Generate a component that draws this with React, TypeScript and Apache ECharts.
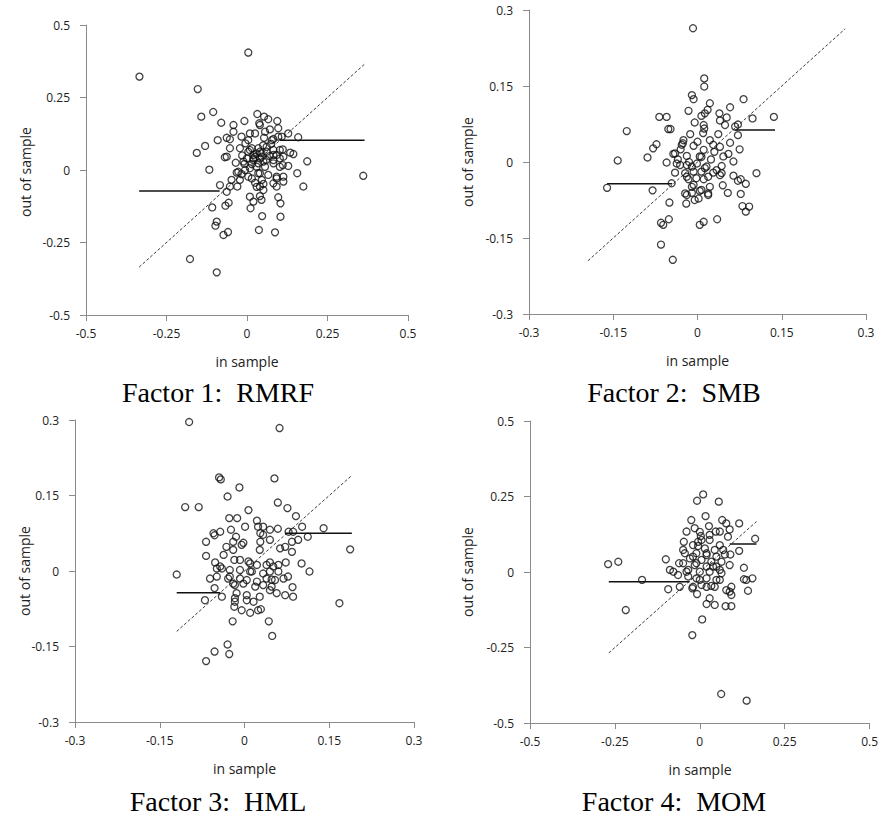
import React, { useEffect, useRef } from "react";
import * as echarts from "echarts";

type P = [number, number];

// ---- Factor 1: RMRF (in sample, out of sample)
const rmrfPoints: P[] = [
  [0.004,0.405],[-0.334,0.322],[-0.153,0.279],[-0.105,0.2],[-0.142,0.184],[-0.08,0.163],[-0.042,0.155],[-0.008,0.169],[0.032,0.193],[0.053,0.184],
  [0.066,0.175],[0.094,0.169],[0.038,0.161],[0.097,0.144],[0.071,0.14],[0.128,0.126],[-0.042,0.132],[-0.091,0.103],[-0.063,0.111],[-0.053,0.106],
  [-0.017,0.115],[0.004,0.103],[0.025,0.126],[0.053,0.111],[0.082,0.107],[0.108,0.115],[0.159,0.113],[-0.13,0.083],[-0.156,0.059],[-0.053,0.075],
  [-0.022,0.075],[-0.069,0.044],[-0.005,0.092],[0.009,0.069],[0.02,0.052],[0.04,0.063],[0.061,0.08],[0.082,0.069],[0.111,0.071],[0.134,0.06],
  [0.144,0.055],[0.092,0.052],[0.187,0.03],[-0.117,0.001],[-0.035,0.025],[-0.008,0.021],[0.02,0.034],[0.04,0.04],[0.051,0.029],[0.082,0.034],
  [0.102,0.04],[0.111,0.017],[0.128,0.014],[0.009,0.006],[0.03,0.011],[0.361,-0.02],[0.156,-0.011],[-0.032,-0.009],[-0.017,-0.014],[0.004,-0.023],
  [0.04,-0.011],[0.066,-0.017],[0.092,-0.023],[0.113,-0.023],[0.025,-0.044],[0.051,-0.048],[0.082,-0.046],[0.113,-0.04],[0.175,-0.057],[-0.084,-0.052],
  [-0.053,-0.057],[-0.03,-0.057],[-0.063,-0.075],[0.04,-0.057],[0.092,-0.057],[0.009,-0.092],[0.04,-0.09],[0.02,-0.109],[0.045,-0.103],[0.097,-0.094],
  [0.104,-0.115],[-0.057,-0.113],[-0.067,-0.123],[-0.108,-0.129],[0.011,-0.132],[0.047,-0.159],[0.104,-0.161],[-0.094,-0.178],[-0.098,-0.192],[-0.059,-0.214],
  [-0.073,-0.224],[0.037,-0.207],[0.087,-0.215],[-0.177,-0.307],[-0.094,-0.353],
  [0.04,0.155],[0.009,0.126],[0.056,0.132],[0.077,0.103],[0.097,0.115],[0.015,0.075],[0.004,0.063],[0.03,0.057],[0.046,0.046],[0.02,0.04],
  [0.061,0.063],[0.082,0.052],[0.102,0.069],[0.113,0.046],[-0.011,0.029],[-0.006,0.0],[-0.027,-0.006],[0.035,0.023],[0.056,0.011],[0.082,0.023],
  [0.102,0.011],[0.035,-0.011],[0.015,-0.029],[0.046,-0.034],[0.092,-0.029],[-0.022,-0.034],[-0.048,-0.034],[0.03,-0.058],[0.051,-0.069],[-0.063,0.046],
  [0.025,0.045],[0.045,0.058],[0.06,0.035],[0.015,0.02],[0.07,0.048],[0.035,0.075],[0.05,0.085],[0.075,0.09],[-0.015,0.05],[0.0,0.04],
];
const rmrfFit: P[] = [[-0.335,-0.335],[0.365,0.365]];
const rmrfLow: P[] = [[-0.335,-0.072],[-0.085,-0.072]];
const rmrfHigh: P[] = [[0.102,0.103],[0.365,0.103]];

// ---- Factor 2: SMB
const smbPoints: P[] = [
  [-0.008,0.264],[0.012,0.165],[0.012,0.149],[-0.01,0.132],[-0.007,0.124],[0.022,0.116],[0.018,0.103],[-0.016,0.101],[0.058,0.108],[0.082,0.124],
  [0.039,0.096],[-0.068,0.089],[-0.055,0.089],[0.052,0.088],[0.098,0.086],[0.136,0.089],[0.007,0.091],[-0.005,0.078],[0.04,0.082],[0.049,0.073],
  [0.072,0.074],[-0.052,0.065],[-0.048,0.065],[-0.126,0.061],[0.012,0.066],[-0.013,0.055],[0.037,0.055],[0.072,0.053],[-0.025,0.043],[0.022,0.043],
  [0.058,0.038],[-0.073,0.035],[-0.028,0.034],[-0.007,0.032],[0.028,0.034],[-0.079,0.027],[0.075,0.025],[0.011,0.024],[-0.089,0.009],[-0.142,0.003],
  [-0.043,0.016],[-0.019,0.012],[0.004,0.011],[0.024,0.005],[0.046,0.011],[0.055,0.016],[-0.055,-0.001],[-0.037,-0.003],[-0.019,-0.006],[-0.001,-0.003],
  [0.016,-0.009],[0.064,0.001],[0.043,-0.008],[-0.04,-0.021],[-0.022,-0.022],[-0.007,-0.019],[0.007,-0.019],[0.028,-0.021],[0.043,-0.022],[0.064,-0.027],
  [0.105,-0.022],[-0.016,-0.034],[-0.002,-0.032],[0.011,-0.034],[0.072,-0.037],[0.077,-0.034],[0.086,-0.043],[0.045,-0.046],[-0.046,-0.042],[-0.007,-0.045],
  [-0.161,-0.051],[-0.08,-0.056],[-0.022,-0.062],[-0.01,-0.061],[0.004,-0.057],[0.019,-0.062],[0.054,-0.061],[0.077,-0.063],[0.002,-0.072],[-0.005,-0.075],
  [-0.05,-0.08],[-0.02,-0.082],[0.08,-0.087],[0.092,-0.088],[0.086,-0.098],[-0.065,-0.12],[-0.051,-0.113],[-0.061,-0.124],[0.004,-0.124],[0.011,-0.118],
  [0.035,-0.113],[-0.065,-0.163],[-0.044,-0.193],
  [0.013,0.096],[0.011,0.073],[0.067,0.07],[0.01,0.057],[-0.026,0.037],[0.0,0.04],[0.04,0.03],[-0.04,0.017],[0.007,0.01],[-0.031,-0.006],
  [-0.01,-0.009],[0.013,-0.012],[0.034,-0.016],[-0.019,-0.029],[0.019,-0.029],[0.04,-0.026],[-0.01,-0.049],[0.007,-0.055],[0.022,-0.049],[-0.019,-0.065],
  [0.019,-0.065],[-0.03,0.025],[-0.035,0.005],[-0.015,0.0],[0.03,0.02],
];
const smbFit: P[] = [[-0.195,-0.195],[0.263,0.263]];
const smbLow: P[] = [[-0.161,-0.043],[-0.045,-0.043]];
const smbHigh: P[] = [[0.067,0.063],[0.138,0.063]];

// ---- Factor 3: HML
const hmlPoints: P[] = [
  [-0.098,0.296],[0.062,0.284],[-0.045,0.186],[-0.042,0.182],[0.053,0.184],[-0.009,0.166],[-0.03,0.148],[-0.105,0.127],[-0.081,0.127],[0.007,0.121],
  [0.059,0.136],[0.076,0.125],[0.091,0.109],[-0.027,0.105],[-0.013,0.105],[0.022,0.1],[0.102,0.088],[0.14,0.085],[0.086,0.078],[0.112,0.068],
  [0.059,0.084],[0.045,0.082],[0.033,0.088],[-0.024,0.082],[-0.043,0.078],[-0.053,0.071],[-0.068,0.058],[0.001,0.088],[-0.015,0.068],[0.028,0.075],
  [-0.002,0.056],[0.028,0.058],[0.063,0.045],[0.084,0.038],[0.095,0.062],[0.187,0.043],[-0.032,0.048],[-0.037,0.032],[-0.068,0.03],[-0.052,0.017],
  [-0.018,0.022],[0.007,0.019],[0.022,0.012],[0.045,0.017],[0.06,0.012],[0.073,0.017],[0.101,0.015],[0.115,-0.001],[-0.12,-0.007],[-0.049,0.005],
  [-0.04,0.005],[-0.061,-0.015],[-0.026,-0.011],[-0.008,-0.015],[0.01,-0.001],[0.033,-0.005],[0.048,-0.017],[0.069,-0.015],[0.077,-0.011],[-0.053,-0.034],
  [-0.04,-0.051],[-0.07,-0.058],[-0.02,-0.025],[-0.002,-0.025],[0.019,-0.031],[0.033,-0.028],[0.057,-0.044],[0.072,-0.048],[0.085,-0.032],[0.086,-0.051],
  [0.045,-0.038],[-0.017,-0.054],[0.004,-0.058],[0.016,-0.061],[0.027,-0.051],[-0.018,-0.071],[-0.005,-0.078],[0.01,-0.083],[0.024,-0.078],[0.029,-0.076],
  [0.168,-0.064],[-0.021,-0.1],[0.043,-0.1],[0.049,-0.129],[-0.03,-0.146],[-0.053,-0.16],[-0.027,-0.165],[-0.068,-0.179],
  [-0.02,0.058],[-0.005,0.052],[0.024,0.088],[0.033,0.072],[0.045,0.062],[0.027,0.042],[-0.02,0.042],[-0.008,0.022],[0.01,0.015],[0.039,0.012],
  [0.051,0.009],[-0.043,0.009],[-0.026,0.002],[-0.008,0.002],[0.013,-0.001],[0.045,-0.001],[0.06,-0.001],[-0.049,-0.011],[-0.029,-0.015],[0.004,-0.018],
  [0.022,-0.021],[0.039,-0.015],[0.054,-0.018],[-0.017,-0.028],[0.048,-0.031],[-0.014,-0.044],[0.004,-0.048],[-0.017,-0.061],[-0.055,0.075],[0.084,0.058],
  [0.078,0.078],[0.072,0.048],
];
const hmlFit: P[] = [[-0.12,-0.12],[0.19,0.19]];
const hmlLow: P[] = [[-0.12,-0.043],[-0.043,-0.043]];
const hmlHigh: P[] = [[0.072,0.075],[0.19,0.075]];

// ---- Factor 4: MOM
const momPoints: P[] = [
  [0.063,-0.404],[0.138,-0.426],[0.01,0.257],[-0.008,0.236],[0.056,0.233],[0.017,0.185],[-0.025,0.172],[0.066,0.172],[0.078,0.161],[0.116,0.161],
  [0.027,0.152],[-0.015,0.145],[0.088,0.141],[-0.039,0.134],[0.047,0.134],[0.059,0.134],[0.163,0.11],[0.003,0.119],[-0.047,0.1],[-0.005,0.1],
  [0.029,0.106],[0.083,0.117],[-0.005,0.086],[0.059,0.089],[0.116,0.07],[-0.049,0.073],[-0.044,0.062],[-0.02,0.051],[0.02,0.062],[0.074,0.058],
  [0.09,0.058],[-0.1,0.042],[-0.061,0.029],[-0.27,0.026],[-0.24,0.034],[-0.088,0.007],[-0.078,0.001],[-0.064,-0.01],[0.13,0.014],[0.088,0.023],
  [-0.039,0.001],[-0.01,0.029],[0.039,0.018],[0.059,0.007],[-0.17,-0.026],[-0.093,-0.057],[-0.059,-0.049],[-0.022,-0.054],[-0.008,-0.073],[0,-0.026],
  [0.02,-0.049],[0.044,-0.049],[0.059,-0.026],[0.078,-0.06],[0.088,-0.065],[0.093,-0.076],[0.13,-0.024],[0.137,-0.026],[0.155,-0.021],[0.142,-0.062],
  [0.02,-0.106],[0.044,-0.109],[0.076,-0.113],[0.093,-0.113],[-0.218,-0.126],[0.007,-0.157],[-0.022,-0.209],[0.029,-0.087],[-0.034,-0.015],
  [0,0.133],[0.029,0.123],[0.005,0.106],[-0.02,0.089],[0.015,0.078],[0.044,0.073],[0.069,0.073],[-0.01,0.062],[0.02,0.056],[0.049,0.051],
  [-0.029,0.045],[0.005,0.04],[0.034,0.034],[0.064,0.034],[-0.049,0.029],[-0.015,0.023],[0.02,0.018],[0.049,0.018],[-0.034,0.007],[0,0.001],
  [0.029,0.001],[0.064,-0.004],[-0.01,-0.021],[0.02,-0.021],[0.049,-0.026],[0.005,-0.043],[0.034,-0.046],[-0.02,-0.049],[0.093,-0.049],
];
const momFit: P[] = [[-0.268,-0.268],[0.167,0.167]];
const momLow: P[] = [[-0.268,-0.032],[-0.03,-0.032]];
const momHigh: P[] = [[0.088,0.093],[0.167,0.093]];

const captions = ["Factor 1:  RMRF", "Factor 2:  SMB", "Factor 3:  HML", "Factor 4:  MOM"];
const ticksWide = ["-0.5", "-0.25", "0", "0.25", "0.5"];
const ticksNarrow = ["-0.3", "-0.15", "0", "0.15", "0.3"];

const panels = [
  { pts: rmrfPoints, fit: rmrfFit, low: rmrfLow, high: rmrfHigh, ticks: ticksWide },
  { pts: smbPoints, fit: smbFit, low: smbLow, high: smbHigh, ticks: ticksNarrow },
  { pts: hmlPoints, fit: hmlFit, low: hmlLow, high: hmlHigh, ticks: ticksNarrow },
  { pts: momPoints, fit: momFit, low: momLow, high: momHigh, ticks: ticksWide },
];

const gridBoxes = [
  { left: 86, top: 25, width: 322, height: 290 },
  { left: 529, top: 10, width: 337, height: 304 },
  { left: 75, top: 420, width: 339, height: 302 },
  { left: 530, top: 421, width: 340, height: 302 },
];
const yTitlePos = [[25, 172], [467, 162], [24, 571], [467, 572]];
const captionPos = [[218, 392], [674, 392], [218, 801], [674, 801]];

const TICK_FONT = "'Open Sans', 'Liberation Sans', sans-serif";

export default function App() {
  const ref = useRef<HTMLDivElement>(null);
  useEffect(() => {
    if (!ref.current) return;
    const chart = echarts.init(ref.current, undefined, { renderer: "svg" });
    const xAxis: any[] = [];
    const yAxis: any[] = [];
    const series: any[] = [];
    const graphic: any[] = [];
    panels.forEach((p, i) => {
      const vals = p.ticks.map(Number);
      const min = vals[0];
      const max = vals[vals.length - 1];
      const interval = vals[1] - vals[0];
      const axisCommon = {
        min,
        max,
        interval,
        axisLine: { onZero: false, lineStyle: { color: "#8a8a8a", width: 1 } },
        axisTick: { show: true, inside: false, length: 6, lineStyle: { color: "#8a8a8a" } },
        splitLine: { show: false },
        axisLabel: {
          fontSize: 12,
          color: "#222",
          fontFamily: TICK_FONT,
          formatter: (v: number) => {
            const idx = vals.findIndex((t) => Math.abs(t - v) < 1e-6);
            return idx >= 0 ? p.ticks[idx] : "";
          },
        },
      };
      xAxis.push({ ...axisCommon, type: "value", gridIndex: i, axisLabel: { ...axisCommon.axisLabel, margin: 12 } });
      yAxis.push({ ...axisCommon, type: "value", gridIndex: i, axisLabel: { ...axisCommon.axisLabel, margin: 16 } });
      series.push({
        type: "scatter",
        xAxisIndex: i,
        yAxisIndex: i,
        data: p.pts,
        symbol: "circle",
        symbolSize: 7,
        itemStyle: { color: "rgba(255,255,255,0)", borderColor: "#111", borderWidth: 1.3 },
        z: 3,
      });
      series.push({
        type: "line",
        xAxisIndex: i,
        yAxisIndex: i,
        data: p.fit,
        showSymbol: false,
        lineStyle: { color: "#3a3a3a", width: 1, type: [3, 2] },
        z: 2,
      });
      [p.low, p.high].forEach((seg) =>
        series.push({
          type: "line",
          xAxisIndex: i,
          yAxisIndex: i,
          data: seg,
          showSymbol: false,
          lineStyle: { color: "#111", width: 1.5 },
          z: 2,
        })
      );
      const g = gridBoxes[i];
      graphic.push({
        type: "text",
        x: g.left + g.width / 2,
        y: g.top + g.height + 46,
        style: {
          text: "in sample",
          fontSize: 14,
          fontFamily: TICK_FONT,
          fill: "#222",
          textAlign: "center",
          textVerticalAlign: "middle",
          align: "center",
          verticalAlign: "middle",
        },
      });
      graphic.push({
        type: "text",
        x: yTitlePos[i][0],
        y: yTitlePos[i][1],
        rotation: Math.PI / 2,
        style: {
          text: "out of sample",
          fontSize: 14,
          fontFamily: TICK_FONT,
          fill: "#222",
          textAlign: "center",
          textVerticalAlign: "middle",
          align: "center",
          verticalAlign: "middle",
        },
      });
      graphic.push({
        type: "text",
        x: captionPos[i][0],
        y: captionPos[i][1],
        style: {
          text: captions[i],
          fontSize: 28,
          fontFamily: "'Liberation Serif', 'DejaVu Serif', serif",
          fill: "#000",
          textAlign: "center",
          textVerticalAlign: "middle",
          align: "center",
          verticalAlign: "middle",
        },
      });
    });
    chart.setOption({
      animation: false,
      backgroundColor: "#ffffff",
      grid: gridBoxes.map((g) => ({ ...g, containLabel: false })),
      xAxis,
      yAxis,
      series,
      graphic,
    });
    return () => chart.dispose();
  }, []);
  return (
    <div
      ref={ref}
      style={{ position: "absolute", left: 0, top: 0, width: 881, height: 819, background: "#fff" }}
    />
  );
}
